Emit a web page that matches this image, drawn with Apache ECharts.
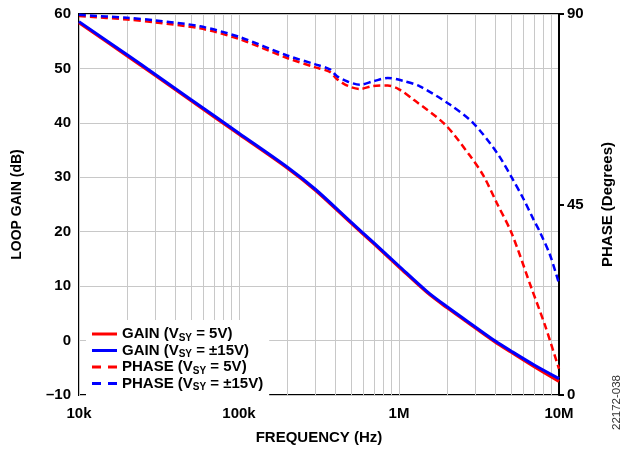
<!DOCTYPE html>
<html>
<head>
<meta charset="utf-8">
<script src="https://cdn.jsdelivr.net/npm/echarts@6/dist/echarts.min.js"></script>
<style>
html,body{margin:0;padding:0;background:#fff;}
#main{width:623px;height:450px;}
</style>
</head>
<body>
<div id="main"></div>
<script>
// gain curves (dB) vs frequency (Hz)
var gainFreq = [10e3, 20e3, 30e3, 50e3, 100e3, 200e3, 300e3, 500e3, 700e3, 1e6, 1.5e6, 2e6, 3e6, 4e6, 5e6, 7e6, 10e6];
var gain5V   = [58.4, 52.3, 48.7, 44.1, 37.9, 31.7, 27.6, 21.6, 17.7, 13.5, 8.8, 6.0, 2.3, -0.3, -2.1, -4.8, -7.5];
var gain15V  = [58.6, 52.5, 48.9, 44.3, 38.1, 31.9, 27.8, 21.8, 17.9, 13.7, 9.0, 6.2, 2.5, -0.1, -1.9, -4.5, -7.0];

// phase curves (degrees)
var phase5VFreq = [10e3, 20e3, 30e3, 57e3, 100e3, 200e3, 300e3, 370e3, 410e3, 480e3, 570e3, 690e3, 850e3, 1e6, 1.23e6, 1.94e6, 2.78e6, 3.37e6, 4.08e6, 5.06e6, 6.75e6, 8.17e6, 9.67e6, 10e6];
var phase5V     = [89.5, 88.7, 88.0, 86.6, 84.1, 79.6, 77.4, 76.3, 74.6, 73.0, 72.3, 73.0, 73.1, 72.2, 69.8, 63.9, 56.5, 51.8, 45.4, 38.2, 25.1, 16.5, 7.9, 6.2];
var phase15VFreq = [10e3, 20e3, 30e3, 57e3, 100e3, 200e3, 300e3, 370e3, 410e3, 480e3, 570e3, 690e3, 850e3, 1.06e6, 1.35e6, 2.08e6, 2.9e6, 4.08e6, 5.06e6, 6e6, 6.9e6, 7.6e6, 8.8e6, 10e6];
var phase15V     = [89.8, 89.1, 88.5, 87.1, 84.6, 80.2, 78.1, 76.9, 75.3, 74.0, 73.3, 74.1, 74.9, 74.2, 72.9, 68.6, 64.3, 57.3, 51.4, 46.3, 41.6, 38.5, 33.0, 26.3];

// x tick labels and the minor (2..9) grid positions of the log axis
var freqLabels = {10000: '10k', 100000: '100k', 1000000: '1M', 10000000: '10M'};
var minorGrid = [20e3, 30e3, 40e3, 50e3, 60e3, 70e3, 80e3, 90e3,
                 200e3, 300e3, 400e3, 500e3, 600e3, 700e3, 800e3, 900e3,
                 2e6, 3e6, 4e6, 5e6, 6e6, 7e6, 8e6, 9e6];

var legendNames = ['GAIN (VSY = 5V)', 'GAIN (VSY = ±15V)', 'PHASE (VSY = 5V)', 'PHASE (VSY = ±15V)'];

function zip(xs, ys){
	var out = [];
	for (var i = 0; i < xs.length; i++) out.push([xs[i], ys[i]]);
	return out;
}

var FONT = 'Arial, "Liberation Sans", sans-serif';
var SOLID_ICON = 'path://M0,0h25v3h-25z';
var DASH_ICON = 'path://M0,0h9v3h-9zM16,0h9v3h-9z';
var chart = echarts.init(document.getElementById('main'));

var option = {
	backgroundColor: '#ffffff',
	animation: false,
	textStyle: {fontFamily: FONT},
	grid: {
		left: 79, right: 64, top: 14, bottom: 53,
		show: true, borderColor: '#000', borderWidth: 2, backgroundColor: 'transparent'
	},
	legend: {
		orient: 'vertical',
		left: 86, top: 320,
		padding: [5, 6, 4, 6],
		itemGap: -1.5,
		itemWidth: 25, itemHeight: 3,
		backgroundColor: '#fff',
		data: [
			{name: legendNames[0], icon: SOLID_ICON},
			{name: legendNames[1], icon: SOLID_ICON},
			{name: legendNames[2], icon: DASH_ICON},
			{name: legendNames[3], icon: DASH_ICON}
		],
		formatter: function(name){
			var p = name.split('VSY');
			return '{t|' + p[0] + 'V}{s|SY}{t|' + p[1] + '}';
		},
		textStyle: {
			color: '#000',
			rich: {
				t: {fontSize: 15, fontWeight: 'bold', fontFamily: FONT, color: '#000', lineHeight: 14},
				s: {fontSize: 10, fontWeight: 'bold', fontFamily: FONT, color: '#000', lineHeight: 14, padding: [8, 0, 0, 0]}
			}
		}
	},
	xAxis: {
		type: 'log', logBase: 10, min: 10000, max: 10000000,
		name: 'FREQUENCY (Hz)', nameLocation: 'middle', nameGap: 35,
		nameTextStyle: {fontSize: 15, fontWeight: 'bold', color: '#000', fontFamily: FONT},
		axisLine: {show: false},
		axisTick: {show: false},
		axisLabel: {
			fontSize: 15, fontWeight: 'bold', color: '#000', margin: 11,
			formatter: function(v){ return freqLabels[Math.round(v)] || ''; }
		},
		splitLine: {show: true, lineStyle: {color: '#c8c8c8', width: 1}}
	},
	yAxis: [
		{
			type: 'value', min: -10, max: 60, interval: 10, position: 'left',
			name: 'LOOP GAIN (dB)', nameLocation: 'middle', nameGap: 55, nameRotate: 90,
			nameTextStyle: {fontSize: 14, fontWeight: 'bold', color: '#000', fontFamily: FONT},
			axisLine: {show: false},
			axisTick: {show: false},
			axisLabel: {
				fontSize: 15, fontWeight: 'bold', color: '#000', margin: 8,
				formatter: function(v){ return v < 0 ? '\u2013' + Math.abs(v) : String(v); }
			},
			splitLine: {show: true, lineStyle: {color: '#c8c8c8', width: 1}}
		},
		{
			type: 'value', min: 0, max: 90, interval: 45, position: 'right',
			name: 'PHASE (Degrees)', nameLocation: 'middle', nameGap: 41, nameRotate: 90,
			nameTextStyle: {fontSize: 15, fontWeight: 'bold', color: '#000', fontFamily: FONT},
			axisLine: {show: true, lineStyle: {color: '#000', width: 2}},
			axisTick: {show: true, length: 5, lineStyle: {color: '#000', width: 2}},
			axisLabel: {fontSize: 15, fontWeight: 'bold', color: '#000', margin: 8},
			splitLine: {show: false}
		}
	],
	graphic: [{
		type: 'text', left: 611, top: 375, rotation: Math.PI / 2,
		style: {text: '22172-038', fontSize: 11.5, fill: '#333', fontFamily: FONT}
	}],
	series: [
		{
			name: legendNames[0], type: 'line', yAxisIndex: 0, z: 3,
			data: zip(gainFreq, gain5V), smooth: 0.3, symbol: 'none',
			lineStyle: {color: '#ff0000', width: 3}, itemStyle: {color: '#ff0000'},
			markLine: {
				silent: true, symbol: 'none', z: 1, animation: false,
				label: {show: false},
				lineStyle: {color: '#c8c8c8', width: 1, type: 'solid'},
				emphasis: {disabled: true},
				data: minorGrid.map(function(v){ return {xAxis: v}; })
			}
		},
		{
			name: legendNames[1], type: 'line', yAxisIndex: 0, z: 3,
			data: zip(gainFreq, gain15V), smooth: 0.3, symbol: 'none',
			lineStyle: {color: '#0000ff', width: 3}, itemStyle: {color: '#0000ff'}
		},
		{
			name: legendNames[2], type: 'line', yAxisIndex: 1, z: 3,
			data: zip(phase5VFreq, phase5V), smooth: 0.3, symbol: 'none',
			lineStyle: {color: '#ff0000', width: 2.5, type: [7, 4]}, itemStyle: {color: '#ff0000'}
		},
		{
			name: legendNames[3], type: 'line', yAxisIndex: 1, z: 3,
			data: zip(phase15VFreq, phase15V), smooth: 0.3, symbol: 'none',
			lineStyle: {color: '#0000ff', width: 2.5, type: [7, 4]}, itemStyle: {color: '#0000ff'}
		}
	]
};
chart.setOption(option);
</script>
</body>
</html>
